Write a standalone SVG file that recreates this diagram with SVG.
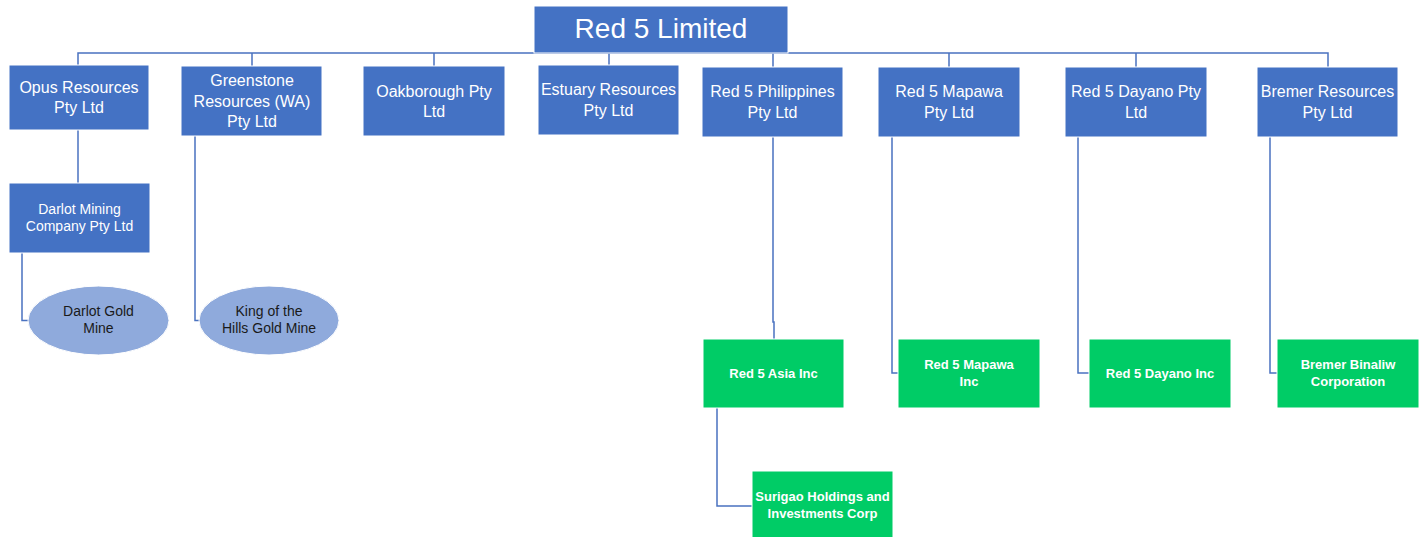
<svg xmlns="http://www.w3.org/2000/svg" width="1426" height="537" viewBox="0 0 1426 537">
<style>
.b{fill:#4472C4;stroke:#fff;stroke-width:1}
.g{fill:#00CC66;stroke:#fff;stroke-width:1}
.e{fill:#8FAADC;stroke:#fff;stroke-width:1}
.t{font-family:"Liberation Sans",Arial,sans-serif;font-size:16px;fill:#fff;text-anchor:middle}
.s{font-family:"Liberation Sans",Arial,sans-serif;font-size:14px;fill:#fff;text-anchor:middle}
.d{font-family:"Liberation Sans",Arial,sans-serif;font-size:14px;fill:#1a1a1a;text-anchor:middle}
.w{font-family:"Liberation Sans",Arial,sans-serif;font-size:13px;font-weight:bold;fill:#fff;text-anchor:middle}
.c{fill:none;stroke:#4A72C0;stroke-width:1.5}
</style>
<rect width="1426" height="537" fill="#fff"/>
<g id="connectors">
<path class="c" d="M78,65 V53 H1328 V67"/>
<path class="c" d="M252,53 V66 M434,53 V66 M609,53 V65 M773,53 V67 M949,53 V67 M1136,53 V67"/>
<path class="c" d="M78,130 V183"/>
<path class="c" d="M22,253 V320.5 H28"/>
<path class="c" d="M195,136 V320.5 H199"/>
<path class="c" d="M773,137 V322 H774 V339"/>
<path class="c" d="M892,137 V373 H898"/>
<path class="c" d="M1078,137 V373 H1089"/>
<path class="c" d="M1270,137 V373 H1277"/>
<path class="c" d="M717,408 V506 H752"/>
</g>
<g id="root"><rect class="b" x="534" y="6" width="254" height="47"/><text class="t" style="font-size:28px" x="661" y="38">Red 5 Limited</text></g>
<g id="opus"><rect class="b" x="9" y="65" width="140" height="65"/><text class="t" x="79" y="93">Opus Resources</text><text class="t" x="79" y="113">Pty Ltd</text></g>
<g id="greenstone"><rect class="b" x="181" y="66" width="141" height="70"/><text class="t" x="252" y="86">Greenstone</text><text class="t" x="252" y="106.5">Resources (WA)</text><text class="t" x="252" y="127">Pty Ltd</text></g>
<g id="oakborough"><rect class="b" x="363" y="66" width="142" height="70"/><text class="t" x="434" y="96.5">Oakborough Pty</text><text class="t" x="434" y="117">Ltd</text></g>
<g id="estuary"><rect class="b" x="538" y="65" width="141" height="70"/><text class="t" x="608.5" y="95">Estuary Resources</text><text class="t" x="608.5" y="115.5">Pty Ltd</text></g>
<g id="philippines"><rect class="b" x="702" y="67" width="141" height="70"/><text class="t" x="772.5" y="97">Red 5 Philippines</text><text class="t" x="772.5" y="117.5">Pty Ltd</text></g>
<g id="mapawa"><rect class="b" x="878" y="67" width="142" height="70"/><text class="t" x="949" y="97">Red 5 Mapawa</text><text class="t" x="949" y="117.5">Pty Ltd</text></g>
<g id="dayano"><rect class="b" x="1065" y="67" width="142" height="70"/><text class="t" x="1136" y="97">Red 5 Dayano Pty</text><text class="t" x="1136" y="117.5">Ltd</text></g>
<g id="bremer"><rect class="b" x="1257" y="67" width="141" height="70"/><text class="t" x="1327.5" y="97">Bremer Resources</text><text class="t" x="1327.5" y="117.5">Pty Ltd</text></g>
<g id="darlotmining"><rect class="b" x="9" y="183" width="141" height="70"/><text class="s" x="79.5" y="214">Darlot Mining</text><text class="s" x="79.5" y="231">Company Pty Ltd</text></g>
<g id="darlotgold"><ellipse class="e" cx="98.5" cy="320.5" rx="70.5" ry="34.5"/><text class="d" x="98.5" y="316">Darlot Gold</text><text class="d" x="98.5" y="333">Mine</text></g>
<g id="kingofthehills"><ellipse class="e" cx="269" cy="320.5" rx="70" ry="34.5"/><text class="d" x="269" y="316">King of the</text><text class="d" x="269" y="333">Hills Gold Mine</text></g>
<g id="asia"><rect class="g" x="703" y="339" width="141" height="69"/><text class="w" x="773.5" y="377.5">Red 5 Asia Inc</text></g>
<g id="mapawainc"><rect class="g" x="898" y="339" width="142" height="69"/><text class="w" x="969" y="368.5">Red 5 Mapawa</text><text class="w" x="969" y="385.5">Inc</text></g>
<g id="dayanoinc"><rect class="g" x="1089" y="339" width="142" height="69"/><text class="w" x="1160" y="377.5">Red 5 Dayano  Inc</text></g>
<g id="binaliw"><rect class="g" x="1277" y="339" width="142" height="69"/><text class="w" x="1348" y="368.5">Bremer Binaliw</text><text class="w" x="1348" y="385.5">Corporation</text></g>
<g id="surigao"><rect class="g" x="752" y="471" width="141" height="70"/><text class="w" x="822.5" y="501">Surigao Holdings and</text><text class="w" x="822.5" y="518">Investments Corp</text></g>
</svg>
